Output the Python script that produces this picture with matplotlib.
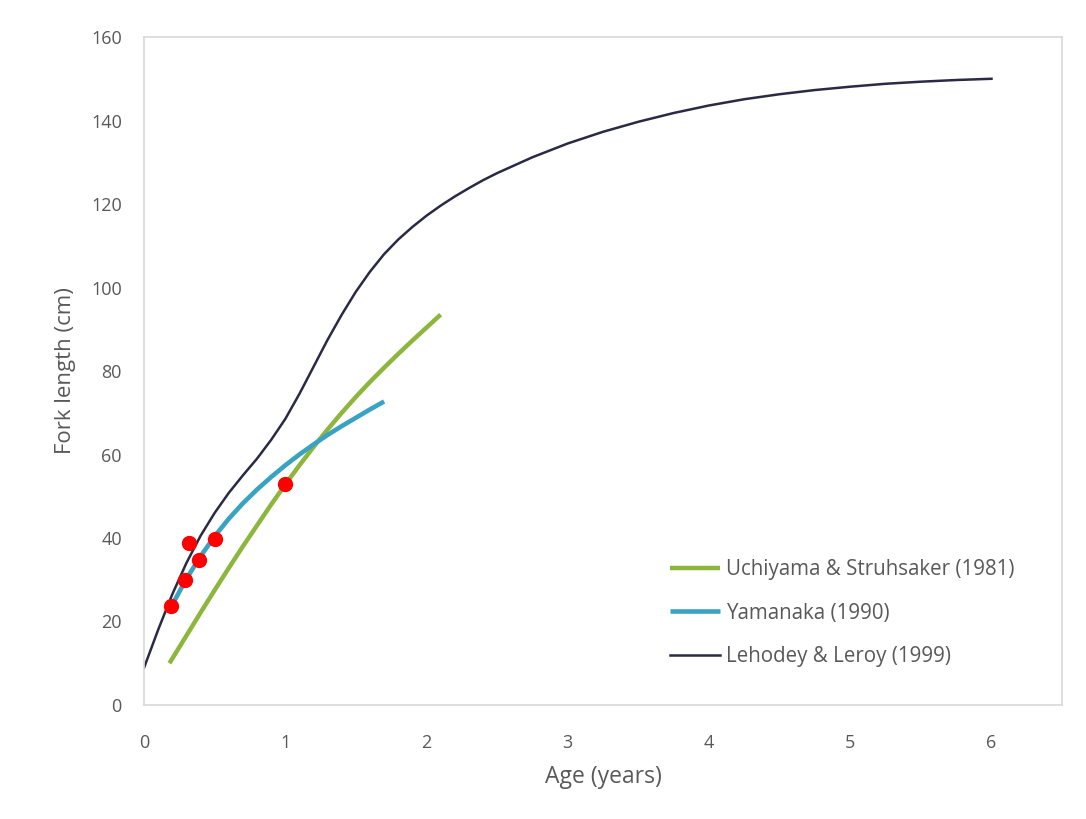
import matplotlib
matplotlib.use("Agg")
import matplotlib.pyplot as plt

plt.rcParams['font.family'] = ['Open Sans', 'DejaVu Sans']

# Uchiyama & Struhsaker (1981)
uch_age = [0.18, 0.3, 0.4, 0.5, 0.6, 0.7, 0.8, 0.9, 1.0, 1.1, 1.2, 1.3, 1.4,
           1.5, 1.6, 1.7, 1.8, 1.9, 2.0, 2.1]
uch_len = [10, 16.6, 22.1, 27.5, 32.8, 38, 43, 48, 52.8, 57.4, 61.8, 66, 70,
           73.8, 77.4, 80.8, 84.1, 87.3, 90.4, 93.5]

# Yamanaka (1990)
yam_age = [0.2, 0.3, 0.4, 0.5, 0.6, 0.7, 0.8, 0.9, 1.0, 1.1, 1.2, 1.3, 1.4,
           1.5, 1.6, 1.7]
yam_len = [24, 30.2, 35.6, 40.4, 44.6, 48.3, 51.6, 54.6, 57.4, 60, 62.4, 64.7,
           66.8, 68.8, 70.8, 72.7]

# Lehodey & Leroy (1999)
leh_age = [0, 0.1, 0.2, 0.3, 0.4, 0.5, 0.6, 0.7, 0.8, 0.9, 1.0, 1.1, 1.2, 1.3,
           1.4, 1.5, 1.6, 1.7, 1.8, 1.9, 2.0, 2.1, 2.2, 2.3, 2.4, 2.5, 2.75,
           3.0, 3.25, 3.5, 3.75, 4.0, 4.25, 4.5, 4.75, 5.0, 5.25, 5.5, 5.75,
           6.0]
leh_len = [8.9, 18, 26.5, 34, 40.5, 46, 50.8, 55, 59, 63.5, 68.5, 74.5, 81,
           87.5, 93.5, 99, 103.8, 108, 111.5, 114.5, 117.2, 119.6, 121.8,
           123.8, 125.7, 127.4, 131.2, 134.5, 137.3, 139.7, 141.8, 143.6,
           145.1, 146.3, 147.3, 148.1, 148.8, 149.3, 149.7, 150]

# observed points
obs_age = [0.19, 0.29, 0.32, 0.39, 0.5, 1.0]
obs_len = [23.7, 30, 38.8, 34.8, 39.7, 53]

fig = plt.figure(figsize=(10.86, 8.19), dpi=100)
ax = fig.add_axes([0.1326, 0.1392, 0.978 - 0.1326, 0.9548 - 0.1392])

ax.plot(uch_age, uch_len, color='#8db63c', lw=3.2, solid_capstyle='butt',
        label='Uchiyama & Struhsaker (1981)')
ax.plot(yam_age, yam_len, color='#3aa3c4', lw=3.3, solid_capstyle='butt',
        label='Yamanaka (1990)')
ax.plot(leh_age, leh_len, color='#2b2a45', lw=1.8,
        label='Lehodey & Leroy (1999)')
ax.plot(obs_age, obs_len, 'o', color='#ff0000', ms=10, zorder=5)

ax.set_xlim(0, 6.5)
ax.set_ylim(0, 160)
ax.set_xticks(range(0, 7))
ax.set_yticks(range(0, 161, 20))
ax.tick_params(length=0, labelsize=13, colors='#595959')
ax.tick_params(axis='y', pad=16)
ax.tick_params(axis='x', pad=21)
for s in ax.spines.values():
    s.set_color('#d9d9d9')
    s.set_linewidth(1.2)

ax.set_xlabel('Age (years)', fontsize=16.5, color='#595959', labelpad=9)
ax.set_ylabel('Fork length (cm)', fontsize=16, color='#595959', labelpad=11)

leg = fig.legend(loc='upper left', bbox_to_anchor=(0.617, 0.317),
                 frameon=False, fontsize=14.8, handlelength=2.45,
                 handletextpad=0.25, labelspacing=1.08, borderpad=0,
                 borderaxespad=0)
for t in leg.get_texts():
    t.set_color('#595959')

fig.savefig('out.png', dpi=100)
